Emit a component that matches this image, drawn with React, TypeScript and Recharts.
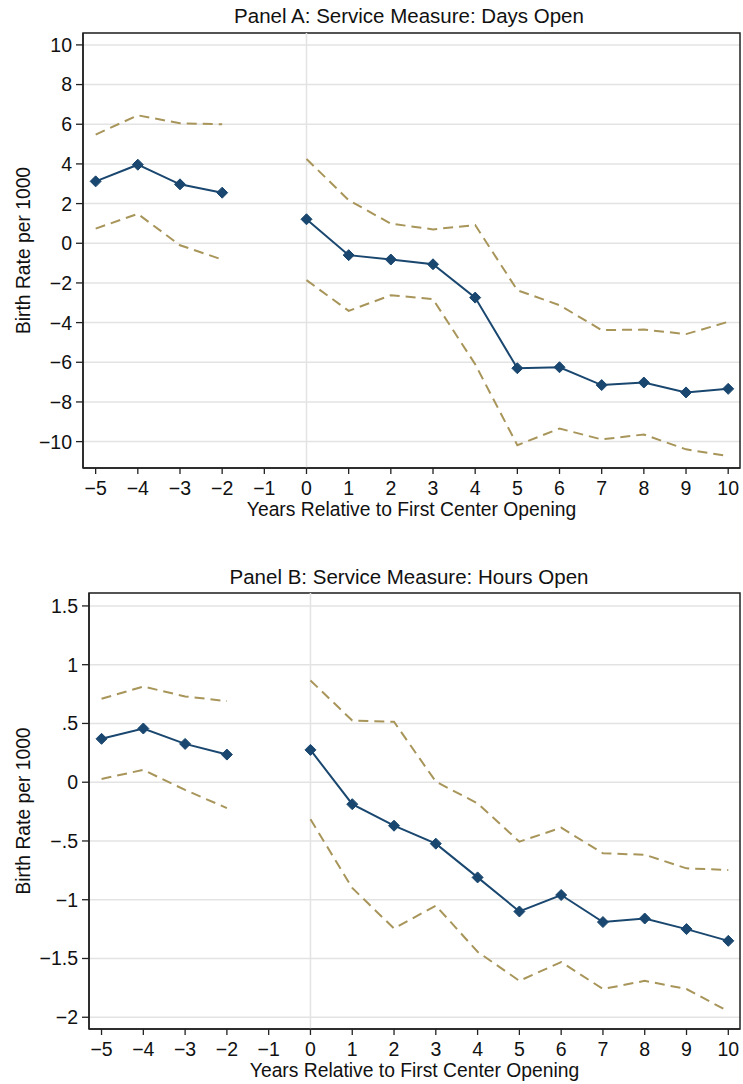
import React from 'react';
import {
  LineChart, Line, XAxis, YAxis, CartesianGrid, ReferenceLine, ReferenceArea, Label,
} from 'recharts';

const years = [-5, -4, -3, -2, -1, 0, 1, 2, 3, 4, 5, 6, 7, 8, 9, 10];

const daysEst = [3.12, 3.96, 2.97, 2.55, null, 1.21, -0.6, -0.82, -1.06, -2.74, -6.3, -6.25, -7.15, -7.02, -7.52, -7.34];
const daysUpper = [5.48, 6.45, 6.05, 6.0, null, 4.25, 2.17, 0.99, 0.7, 0.92, -2.37, -3.12, -4.38, -4.35, -4.58, -3.96];
const daysLower = [0.74, 1.48, -0.1, -0.82, null, -1.86, -3.41, -2.62, -2.82, -6.1, -10.18, -9.34, -9.89, -9.64, -10.39, -10.73];

const hoursEst = [0.369, 0.457, 0.326, 0.235, null, 0.275, -0.187, -0.37, -0.523, -0.81, -1.1, -0.96, -1.19, -1.16, -1.25, -1.35];
const hoursUpper = [0.71, 0.814, 0.73, 0.69, null, 0.866, 0.525, 0.514, 0.005, -0.18, -0.506, -0.387, -0.605, -0.617, -0.733, -0.747];
const hoursLower = [0.028, 0.105, -0.066, -0.22, null, -0.315, -0.9, -1.245, -1.05, -1.443, -1.69, -1.53, -1.76, -1.69, -1.76, -1.95];

const xTicks = [-5, -4, -3, -2, -1, 0, 1, 2, 3, 4, 5, 6, 7, 8, 9, 10];
const daysTicks = [-10, -8, -6, -4, -2, 0, 2, 4, 6, 8, 10];
const hoursTicks = [-2, -1.5, -1, -0.5, 0, 0.5, 1, 1.5];

const titleA = 'Panel A: Service Measure: Days Open';
const titleB = 'Panel B: Service Measure: Hours Open';
const xTitle = 'Years Relative to First Center Opening';
const yTitle = 'Birth Rate per 1000';

const FONT = '"Liberation Sans", Arial, Helvetica, sans-serif';
const NAVY = '#1a476f';
const SAND = '#a8955a';
const GRID = '#e3e3e3';
const AXIS = '#222222';

const build = (est: (number | null)[], up: (number | null)[], lo: (number | null)[]) =>
  years.map((y, i) => ({ year: y, est: est[i], upper: up[i], lower: lo[i] }));

const minus = (s: string) => s.replace('-', '\u2212');
const fmtInt = (v: number) => minus(String(v));
const fmtStata = (v: number) => {
  let s = String(v);
  if (s.startsWith('0.')) s = s.slice(1);
  if (s.startsWith('-0.')) s = '-' + s.slice(2);
  return minus(s);
};

const Diamond = (props: any) => {
  const { cx, cy, value } = props;
  if (value === null || value === undefined || cx == null || cy == null) return null;
  const r = 5.5;
  return (
    <polygon
      points={`${cx},${cy - r} ${cx + r},${cy} ${cx},${cy + r} ${cx - r},${cy}`}
      fill={NAVY}
      stroke={NAVY}
      strokeWidth={1}
    />
  );
};

const YTitle = (props: any) => {
  const vb = props.viewBox || {};
  const cy = vb.y + vb.height / 2;
  const cx = 23;
  return (
    <text
      x={cx}
      y={cy}
      transform={`rotate(-90 ${cx} ${cy})`}
      textAnchor="middle"
      dominantBaseline="central"
      fontFamily={FONT}
      fontSize={19.3}
      fill="#111"
    >
      {yTitle}
    </text>
  );
};

type PanelProps = {
  data: any[];
  yDomain: [number, number];
  yTicks: number[];
  yFmt: (v: number) => string;
  height: number;
  marginTop: number;
  marginBottom: number;
  yAxisWidth: number;
};

const xDomain: [number, number] = [-5.3, 10.28];

const Panel = ({ data, yDomain, yTicks, yFmt, height, marginTop, marginBottom, yAxisWidth }: PanelProps) => (
  <LineChart
    width={743}
    height={height}
    data={data}
    margin={{ top: marginTop, right: 3, bottom: marginBottom, left: 0 }}
  >
    <CartesianGrid vertical={false} stroke={GRID} strokeWidth={1.5} />
    <ReferenceLine x={0} stroke={GRID} strokeWidth={1.5} />
    <XAxis
      dataKey="year"
      type="number"
      domain={xDomain}
      ticks={xTicks}
      allowDataOverflow
      tickFormatter={fmtInt}
      interval={0}
      height={50}
      tickSize={6}
      tickMargin={7}
      stroke={AXIS}
      strokeWidth={1.5}
      tick={{ fill: '#111', fontSize: 19.5, fontFamily: FONT }}
      tickLine={{ stroke: AXIS, strokeWidth: 1.3 }}
      label={{
        value: xTitle,
        position: 'insideBottom',
        offset: 2,
        fill: '#111',
        fontSize: 19.3,
        fontFamily: FONT,
      }}
    />
    <YAxis
      type="number"
      domain={yDomain}
      ticks={yTicks}
      allowDataOverflow
      tickFormatter={yFmt}
      interval={0}
      width={yAxisWidth}
      tickSize={7}
      tickMargin={4}
      stroke={AXIS}
      strokeWidth={1.5}
      tick={{ fill: '#111', fontSize: 19.5, fontFamily: FONT }}
      tickLine={{ stroke: AXIS, strokeWidth: 1.3 }}
    >
      <Label content={YTitle} />
    </YAxis>
    <ReferenceArea
      x1={xDomain[0]}
      x2={xDomain[1]}
      y1={yDomain[0]}
      y2={yDomain[1]}
      fill="none"
      fillOpacity={0}
      stroke={AXIS}
      strokeWidth={1.5}
      ifOverflow="visible"
    />
    <Line dataKey="upper" stroke={SAND} strokeWidth={2} strokeDasharray="10 6" dot={false} activeDot={false} isAnimationActive={false} />
    <Line dataKey="lower" stroke={SAND} strokeWidth={2} strokeDasharray="10 6" dot={false} activeDot={false} isAnimationActive={false} />
    <Line dataKey="est" stroke={NAVY} strokeWidth={2} dot={<Diamond />} activeDot={false} isAnimationActive={false} />
  </LineChart>
);

const titleStyle = (top: number): React.CSSProperties => ({
  position: 'absolute',
  top,
  left: 409,
  transform: 'translateX(-50%)',
  whiteSpace: 'nowrap',
  fontFamily: FONT,
  fontSize: 20.5,
  lineHeight: '20.5px',
  color: '#111',
});

export default function App() {
  const dataA = build(daysEst, daysUpper, daysLower);
  const dataB = build(hoursEst, hoursUpper, hoursLower);
  return (
    <div style={{ position: 'absolute', left: 0, top: 0, width: 743, height: 1084, background: '#fff' }}>
      <div style={{ position: 'absolute', left: 0, top: 0 }}>
        <Panel
          data={dataA}
          yDomain={[-11.33, 10.6]}
          yTicks={daysTicks}
          yFmt={fmtInt}
          height={540}
          marginTop={33}
          marginBottom={22}
          yAxisWidth={83}
        />
      </div>
      <div style={titleStyle(6)}>{titleA}</div>
      <div style={{ position: 'absolute', left: 0, top: 560 }}>
        <Panel
          data={dataB}
          yDomain={[-2.1, 1.61]}
          yTicks={hoursTicks}
          yFmt={fmtStata}
          height={524}
          marginTop={33}
          marginBottom={5}
          yAxisWidth={89}
        />
      </div>
      <div style={titleStyle(567)}>{titleB}</div>
    </div>
  );
}
